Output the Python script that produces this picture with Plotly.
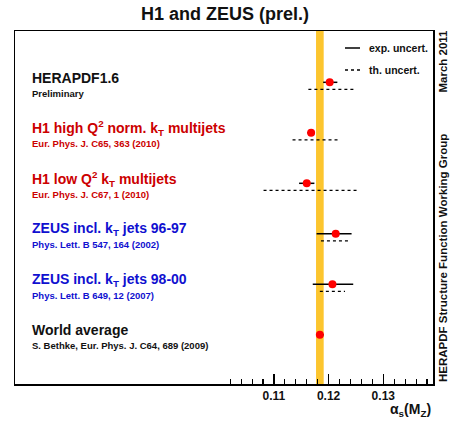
import plotly.graph_objects as go

# ---------------- data ----------------
names = [
    "HERAPDF1.6",
    "H1 high Q<sup>2</sup> norm. k<sub>T</sub> multijets",
    "H1 low Q<sup>2</sup> k<sub>T</sub> multijets",
    "ZEUS incl. k<sub>T</sub> jets 96-97",
    "ZEUS incl. k<sub>T</sub> jets 98-00",
    "World average",
]
refs = [
    "Preliminary",
    "Eur. Phys. J. C65, 363 (2010)",
    "Eur. Phys. J. C67, 1 (2010)",
    "Phys. Lett. B 547, 164 (2002)",
    "Phys. Lett. B 649, 12 (2007)",
    "S. Bethke, Eur. Phys. J. C64, 689 (2009)",
]
alphas = [0.1202, 0.1168, 0.1160, 0.1213, 0.1207, 0.1184]
exp_plus = [0.0014, 0.0007, 0.0014, 0.0029, 0.0038, 0.0007]
exp_minus = [0.0012, 0.0007, 0.0014, 0.0035, 0.0036, 0.0007]
th_plus = [0.0046, 0.0050, 0.0094, 0.0027, 0.0023, None]
th_minus = [0.0039, 0.0034, 0.0079, 0.0027, 0.0023, None]
world_avg = 0.1184
world_err = 0.0007

major_ticks = [0.11, 0.12, 0.13]
major_labels = ["0.11", "0.12", "0.13"]
minor_ticks = [0.102, 0.104, 0.106, 0.108, 0.112, 0.114, 0.116, 0.118,
               0.122, 0.124, 0.126, 0.128, 0.132, 0.134, 0.136, 0.138]

title = "H1 and ZEUS (prel.)"
xlabel = "α<sub>s</sub>(M<sub>Z</sub>)"
side_top = "March 2011"
side_bottom = "HERAPDF Structure Function Working Group"
leg_exp = "exp. uncert."
leg_th = "th. uncert."

# ---------------- style ----------------
label_colors = ["#111111", "#cc0000", "#cc0000", "#1010d0", "#1010d0", "#111111"]
FONT = "Liberation Sans, Arial, Helvetica, sans-serif"
W, H = 457, 426
L, R, T, B = 15, 24, 31, 42
XR = [0.06265, 0.13909]
YR = [5.974, -1.016]
TH_OFF = 0.14

ypos = list(range(len(names)))

fig = go.Figure()

# world-average band
fig.add_vrect(x0=world_avg - world_err, x1=world_avg + world_err,
              fillcolor="#fcc52e", line_width=0, layer="below")

# theory uncertainties (dashed)
for i, (a, tp, tm) in enumerate(zip(alphas, th_plus, th_minus)):
    if tp is None:
        continue
    fig.add_trace(go.Scatter(
        x=[a - tm, a + tp], y=[i + TH_OFF, i + TH_OFF], mode="lines",
        line=dict(color="black", width=1.3, dash="3px,3px"),
        showlegend=False, hoverinfo="skip"))

# central values with experimental uncertainties
fig.add_trace(go.Scatter(
    x=alphas, y=ypos, mode="markers",
    marker=dict(color="#ff0000", size=8),
    error_x=dict(type="data", symmetric=False, array=exp_plus,
                 arrayminus=exp_minus, color="black", thickness=1.5, width=0),
    showlegend=False))

ann = []
# labels
for i, (n, r, c) in enumerate(zip(names, refs, label_colors)):
    ann.append(dict(x=0.036, xref="paper", y=i - 0.09, yref="y", text=n,
                    showarrow=False, xanchor="left", yanchor="middle",
                    font=dict(family=FONT, size=14, color=c, weight="bold")))
    ann.append(dict(x=0.036, xref="paper", y=i + 0.22, yref="y", text=r,
                    showarrow=False, xanchor="left", yanchor="middle",
                    font=dict(family=FONT, size=9.5, color=c, weight="bold")))

def px_x(px):
    return (px - L) / (W - L - R)

def px_y(py):
    return (H - B - py) / (H - T - B)

# title
ann.append(dict(x=px_x(225), xref="paper", y=px_y(14), yref="paper", text=title,
                showarrow=False, xanchor="center", yanchor="middle",
                font=dict(family=FONT, size=18, color="#111111", weight="bold")))
# legend texts
ann.append(dict(x=px_x(367), xref="paper", y=px_y(48), yref="paper", text=leg_exp,
                showarrow=False, xanchor="left", yanchor="middle",
                font=dict(family=FONT, size=10.5, color="#111111", weight="bold")))
ann.append(dict(x=px_x(367), xref="paper", y=px_y(70), yref="paper", text=leg_th,
                showarrow=False, xanchor="left", yanchor="middle",
                font=dict(family=FONT, size=10.5, color="#111111", weight="bold")))
# x-axis label
ann.append(dict(x=px_x(433), xref="paper", y=px_y(410), yref="paper", text=xlabel,
                showarrow=False, xanchor="right", yanchor="middle",
                font=dict(family=FONT, size=14, color="#111111", weight="bold")))
# side texts
ann.append(dict(x=px_x(443), xref="paper", y=px_y(28), yref="paper", text=side_top,
                showarrow=False, xanchor="center", yanchor="top", textangle=-90,
                font=dict(family=FONT, size=11.5, color="#111111", weight="bold")))
ann.append(dict(x=px_x(443), xref="paper", y=px_y(384), yref="paper", text=side_bottom,
                showarrow=False, xanchor="center", yanchor="bottom", textangle=-90,
                font=dict(family=FONT, size=11.5, color="#111111", weight="bold")))

# legend line samples
shapes = [
    dict(type="line", xref="paper", yref="paper", x0=px_x(345), x1=px_x(360),
         y0=px_y(48), y1=px_y(48), line=dict(color="black", width=1.5)),
    dict(type="line", xref="paper", yref="paper", x0=px_x(345), x1=px_x(360),
         y0=px_y(70), y1=px_y(70), line=dict(color="black", width=1.3, dash="3px,3px")),
]
for s in shapes:
    fig.add_shape(**s)

fig.update_layout(
    width=W, height=H,
    margin=dict(l=L, r=R, t=T, b=B, pad=0),
    plot_bgcolor="white", paper_bgcolor="white",
    annotations=ann,
    showlegend=False,
    xaxis=dict(range=XR, showgrid=False, zeroline=False,
               showline=True, mirror=True, linecolor="black", linewidth=1.5,
               tickmode="array", tickvals=major_ticks, ticktext=major_labels,
               ticks="inside", ticklen=10, tickwidth=1.3, tickcolor="black",
               tickfont=dict(family=FONT, size=12, color="#111111", weight="bold"),
               minor=dict(tickmode="array", tickvals=minor_ticks, ticks="inside",
                          ticklen=5, tickwidth=1.1, tickcolor="black", showgrid=False)),
    yaxis=dict(range=YR, showgrid=False, zeroline=False, showticklabels=False,
               showline=True, mirror=True, linecolor="black", linewidth=1.5,
               ticks=""),
)

fig.write_html("out.html",
               config={"displayModeBar": False, "staticPlot": True},
               post_script="document.body.style.margin='0';"
                           "document.body.style.overflow='hidden';")
